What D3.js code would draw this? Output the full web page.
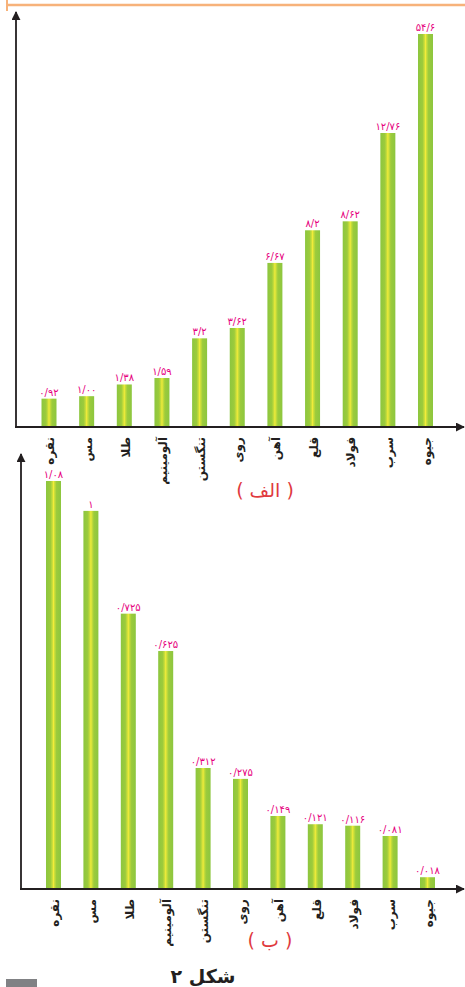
<!DOCTYPE html>
<html>
<head>
<meta charset="utf-8">
<script src="https://cdn.jsdelivr.net/npm/d3@7"></script>
<style>
  body { margin: 0; background: #fff; }
  svg { display: block; }
</style>
</head>
<body>
<div id="graph"><svg></svg></div>
<script>
// data
let metals = ["نقره", "مس", "طلا", "آلومینیم", "تنگستن", "روی", "آهن", "قلع", "فولاد", "سرب", "جیوه"];
let valuesA = ["0.92", "1.00", "1.38", "1.59", "3.2", "3.62", "6.67", "8.2", "8.62", "12.76", "54.6"];
let valuesB = ["1.08", "1", "0.725", "0.625", "0.312", "0.275", "0.149", "0.121", "0.116", "0.081", "0.018"];

// the book draws both panels with a broken (non proportional) axis
let breaksA = [0, 1.59, 3.62, 12.76, 54.6];
let breaksB = [0, 0.081, 0.149, 0.312, 1.08];

let width = 465, height = 987;
let faDigits = "۰۱۲۳۴۵۶۷۸۹";
function toFa(s) {
  return s.replace(/[0-9]/g, (c) => faDigits[+c]).replace(".", "/");
}

let svg = d3.select("#graph svg").attr("width", width).attr("height", height);

let defs = svg.append("defs");
let grad = defs.append("linearGradient").attr("id", "barGrad")
  .attr("x1", "0%").attr("x2", "100%").attr("y1", "0%").attr("y2", "0%");
[["0%", "#8cc63f"], ["30%", "#9ccb3c"], ["44%", "#cfe03a"], ["50%", "#f3ec3a"], ["56%", "#cfe03a"], ["70%", "#9ccb3c"], ["100%", "#8cc63f"]]
  .forEach((s) => grad.append("stop").attr("offset", s[0]).attr("stop-color", s[1]));

defs.append("marker").attr("id", "arrow")
  .attr("viewBox", "0 0 10 10").attr("refX", 9).attr("refY", 5)
  .attr("markerWidth", 5).attr("markerHeight", 5).attr("orient", "auto")
  .append("path").attr("d", "M0,0 L10,5 L0,10 Z").attr("fill", "#231f20");

// orange rule at the top
svg.append("line").attr("x1", 7).attr("x2", width).attr("y1", 5).attr("y2", 5)
  .attr("stroke", "#f7b27a").attr("stroke-width", 2.5);
svg.append("line").attr("x1", 7).attr("x2", 7).attr("y1", 0).attr("y2", 11)
  .attr("stroke", "#f7b27a").attr("stroke-width", 2);

function panel(values, breaks, opt) {
  let x = d3.scalePoint().domain(metals).range([opt.x0, opt.x1]);
  let y = d3.scaleLinear().domain(breaks).range(opt.yRange);
  let base = opt.yRange[0];
  let g = svg.append("g");

  g.selectAll("rect")
    .data(values)
    .join("rect")
    .attr("x", (d, i) => x(metals[i]) - 7.5)
    .attr("width", 15)
    .attr("y", (d) => y(+d))
    .attr("height", (d) => base - y(+d))
    .attr("fill", "url(#barGrad)");

  g.selectAll(".val")
    .data(values)
    .join("text")
    .attr("class", "val")
    .attr("x", (d, i) => x(metals[i]))
    .attr("y", (d) => y(+d) - 3)
    .attr("text-anchor", "middle")
    .style("font-family", "DejaVu Sans")
    .style("font-size", "10px")
    .style("fill", "#e6007e")
    .text((d) => toFa(d));

  // axes
  g.append("line").attr("x1", opt.axisX).attr("x2", opt.axisX)
    .attr("y1", base + 1).attr("y2", opt.axisTop)
    .attr("stroke", "#231f20").attr("stroke-width", 1.8)
    .attr("marker-end", "url(#arrow)");
  g.append("line").attr("x1", opt.axisX - 1).attr("x2", 464)
    .attr("y1", base).attr("y2", base)
    .attr("stroke", "#231f20").attr("stroke-width", 1.8)
    .attr("marker-end", "url(#arrow)");

  g.selectAll(".cat")
    .data(metals)
    .join("text")
    .attr("class", "cat")
    .attr("transform", (d) => "translate(" + (x(d) + 1) + "," + (base + 10) + ") rotate(-90)")
    .attr("direction", "rtl")
    .attr("text-anchor", "start")
    .attr("dy", "0.35em")
    .style("font-family", "DejaVu Sans")
    .style("font-weight", "bold")
    .style("font-size", "12px")
    .style("fill", "#231f20")
    .text((d) => d);

  g.append("text")
    .attr("x", opt.capX).attr("y", opt.capY)
    .attr("text-anchor", "middle")
    .attr("direction", "rtl")
    .style("font-family", "DejaVu Sans")
    .style("font-size", "19px")
    .style("fill", "#e03a3e")
    .text(opt.caption);
}

panel(valuesA, breaksA, {
  x0: 49, x1: 425.5, yRange: [427, 378, 328, 133, 34],
  axisX: 16, axisTop: 12, caption: "( الف )", capX: 265, capY: 497
});
panel(valuesB, breaksB, {
  x0: 53.5, x1: 427.5, yRange: [889, 836, 816, 768, 481],
  axisX: 21, axisTop: 454, caption: "( ب )", capX: 270, capY: 947
});

svg.append("text")
  .attr("x", 203).attr("y", 983)
  .attr("text-anchor", "middle")
  .attr("direction", "rtl")
  .style("font-family", "DejaVu Sans")
  .style("font-weight", "bold")
  .style("font-size", "19px")
  .style("fill", "#231f20")
  .text("شکل ۲");

svg.append("rect").attr("x", 6).attr("y", 979).attr("width", 31).attr("height", 8)
  .attr("fill", "#808184");
</script>
</body>
</html>
